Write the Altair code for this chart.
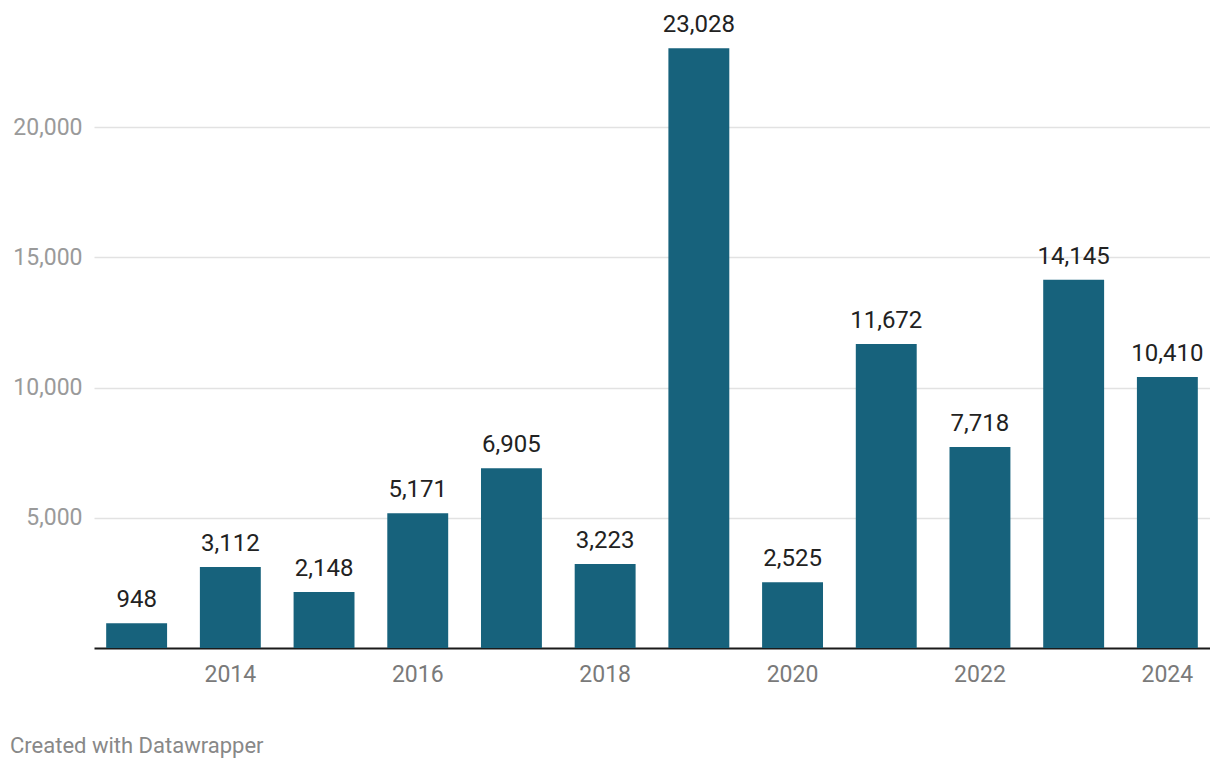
import altair as alt
import pandas as pd

years = [2013, 2014, 2015, 2016, 2017, 2018, 2019, 2020, 2021, 2022, 2023, 2024]
values = [948, 3112, 2148, 5171, 6905, 3223, 23028, 2525, 11672, 7718, 14145, 10410]
y_ticks = [5000, 10000, 15000, 20000]

df = pd.DataFrame({"year": [str(y) for y in years], "value": values})

FONT = "Roboto"
W, H = 1116, 625

x = alt.X("year:O", title=None,
          scale=alt.Scale(paddingInner=0.35, paddingOuter=0.13),
          axis=alt.Axis(labelAngle=0, labelExpr="datum.value % 2 == 0 ? datum.label : ''",
                        labelFontSize=23, labelColor="#7a7a7a", labelFont=FONT,
                        labelPadding=15, ticks=False, domain=True, domainColor="#1a1a1a",
                        domainWidth=2, grid=False))

y = alt.Y("value:Q", title=None, scale=alt.Scale(domain=[0, 24000], nice=False),
          axis=alt.Axis(values=y_ticks, labelExpr="format(datum.value, ',')",
                        labelFontSize=23, labelColor="#9a9a9a", labelFont=FONT,
                        labelPadding=12, ticks=False, domain=False,
                        grid=True, gridColor="#e2e2e2", gridWidth=1.5))

base = alt.Chart(df)

bars = base.mark_bar(color="#17627c").encode(x=x, y=y)

labels = base.mark_text(baseline="bottom", dy=-11, fontSize=24, font=FONT, color="#222222").encode(
    x=x, y=y,
    text=alt.Text("value:Q", format=","),
)

footer = alt.Chart(pd.DataFrame({"t": ["Created with Datawrapper"]})).mark_text(
    align="left", baseline="middle", fontSize=22, font=FONT, color="#888888"
).encode(x=alt.value(-84), y=alt.value(H + 98), text="t:N")

chart = alt.layer(bars, labels, footer).properties(
    width=W, height=H, background="white",
    autosize=alt.AutoSizeParams(type="none"),
    padding={"left": 86, "top": 15, "right": 0, "bottom": 110},
).configure_view(stroke=None)

chart.save("out.html", embed_options={"renderer": "svg", "actions": False})
